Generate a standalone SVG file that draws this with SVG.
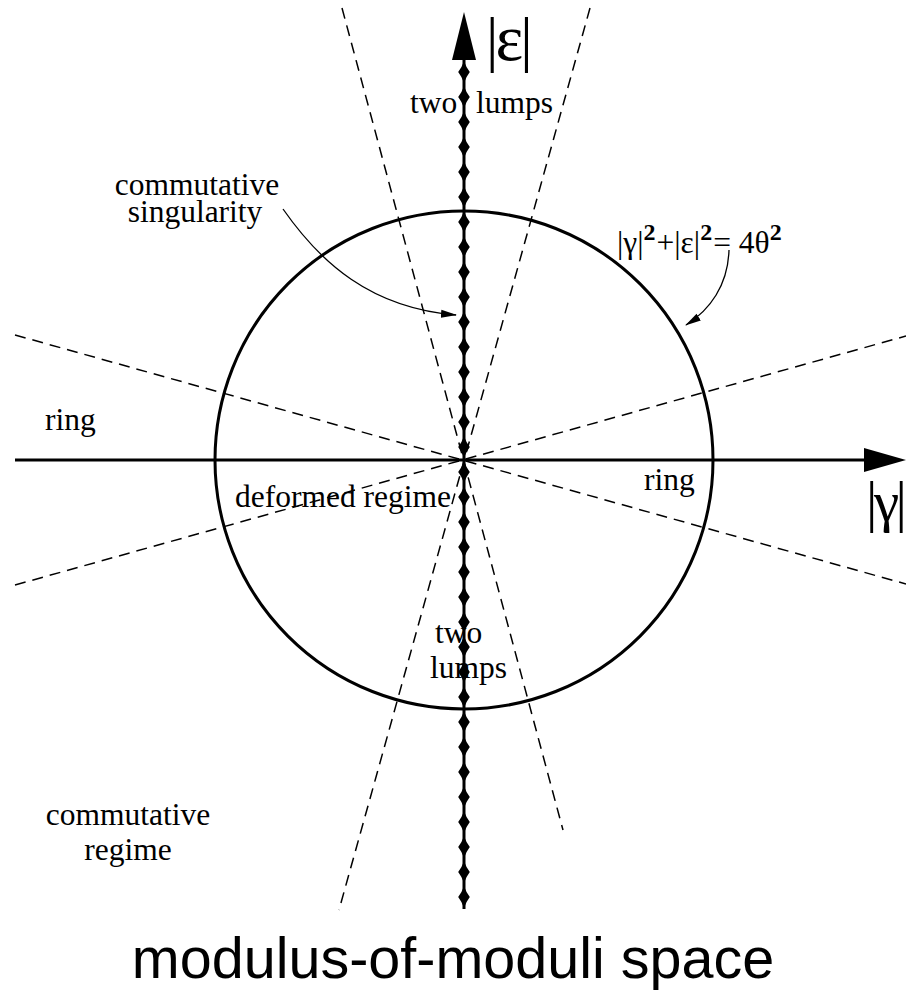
<svg xmlns="http://www.w3.org/2000/svg" width="906" height="998" viewBox="0 0 906 998">
<style>
.t{font-family:"Liberation Serif","Times New Roman",serif;font-size:31.5px;fill:#000}
.big{font-family:"Liberation Serif","Times New Roman",serif;fill:#000}
.title{font-family:"Liberation Sans",Arial,sans-serif;font-size:57.5px;fill:#000}
.dash{stroke:#000;stroke-width:1.5;stroke-dasharray:11 7;fill:none}
.axis{stroke:#000;stroke-width:3;fill:none}
.thin{stroke:#000;stroke-width:1.3;fill:none}
.sup{font-weight:bold;font-size:24px}
</style>
<defs>
<marker id="dm" markerUnits="userSpaceOnUse" markerWidth="14" markerHeight="26" refX="7" refY="13" viewBox="0 0 14 26" orient="0">
<path d="M7,2 Q9,8 12.8,13 Q9,18 7,24 Q5,18 1.2,13 Q5,8 7,2 Z" fill="#000"/>
</marker>
<marker id="ah" markerUnits="userSpaceOnUse" markerWidth="16" markerHeight="10" refX="15" refY="5" viewBox="0 0 16 10" orient="auto">
<path d="M0,1 L16,5 L0,9 Z" fill="#000"/>
</marker>
</defs>
<g id="dashed-lines">
<line class="dash" x1="342" y1="8" x2="563" y2="830"/>
<line class="dash" x1="590" y1="8" x2="339" y2="910"/>
<line class="dash" x1="15" y1="335" x2="906" y2="584"/>
<line class="dash" x1="15" y1="585" x2="906" y2="336"/>
</g>
<g id="circle">
<circle cx="464" cy="460" r="249" class="axis"/>
</g>
<g id="gamma-axis">
<line class="axis" x1="15" y1="460" x2="866" y2="460"/>
<polygon points="906,460 864,448 864,472" fill="#000"/>
<text class="big" x="866" y="521" font-size="57" letter-spacing="-3.5">|γ|</text>
</g>
<g id="epsilon-axis">
<line x1="464" y1="58" x2="464" y2="909" stroke="#000" stroke-width="3"/>
<polyline fill="none" stroke="none" marker-start="url(#dm)" marker-mid="url(#dm)" marker-end="url(#dm)" points="464,72 464,97 464,122 464,147 464,172 464,197 464,222 464,247 464,272 464,297 464,322 464,347 464,372 464,397 464,422 464,447 464,472 464,497 464,522 464,547 464,572 464,597 464,622 464,647 464,672 464,697 464,722 464,747 464,772 464,797 464,822 464,847 464,872 464,897"/>
<polygon points="464,12 452,60 476,60" fill="#000"/>
<text class="big" x="486" y="60" font-size="62" letter-spacing="-3">|<tspan font-size="66">ε</tspan>|</text>
</g>
<g id="connectors">
<path class="thin" d="M283,209 C320,262 370,308 456,315" marker-end="url(#ah)"/>
<path class="thin" d="M729,250 C728,285 710,310 686,325" marker-end="url(#ah)"/>
</g>
<g id="labels">
<text class="t" x="410" y="113">two</text>
<text class="t" x="476" y="113">lumps</text>
<text class="t" text-anchor="middle"><tspan x="197" y="195">commutative</tspan><tspan x="195" y="222">singularity</tspan></text>
<text class="t" x="617" y="253" font-size="33">|γ|<tspan class="sup" dy="-13">2</tspan><tspan dx="1" dy="13">+|ε|</tspan><tspan class="sup" dy="-13">2</tspan><tspan dx="1" dy="13">= 4θ</tspan><tspan class="sup" dy="-13">2</tspan></text>
<text class="t" x="45" y="430">ring</text>
<text class="t" x="644" y="490">ring</text>
<text class="t" x="235" y="507" font-size="29">deformed regime</text>
<text class="t"><tspan x="435" y="643">two</tspan><tspan x="430" y="678">lumps</tspan></text>
<text class="t" text-anchor="middle"><tspan x="128" y="825">commutative</tspan><tspan x="128" y="860">regime</tspan></text>
</g>
<g id="title">
<text class="title" x="453" y="978" text-anchor="middle">modulus-of-moduli space</text>
</g>
</svg>
